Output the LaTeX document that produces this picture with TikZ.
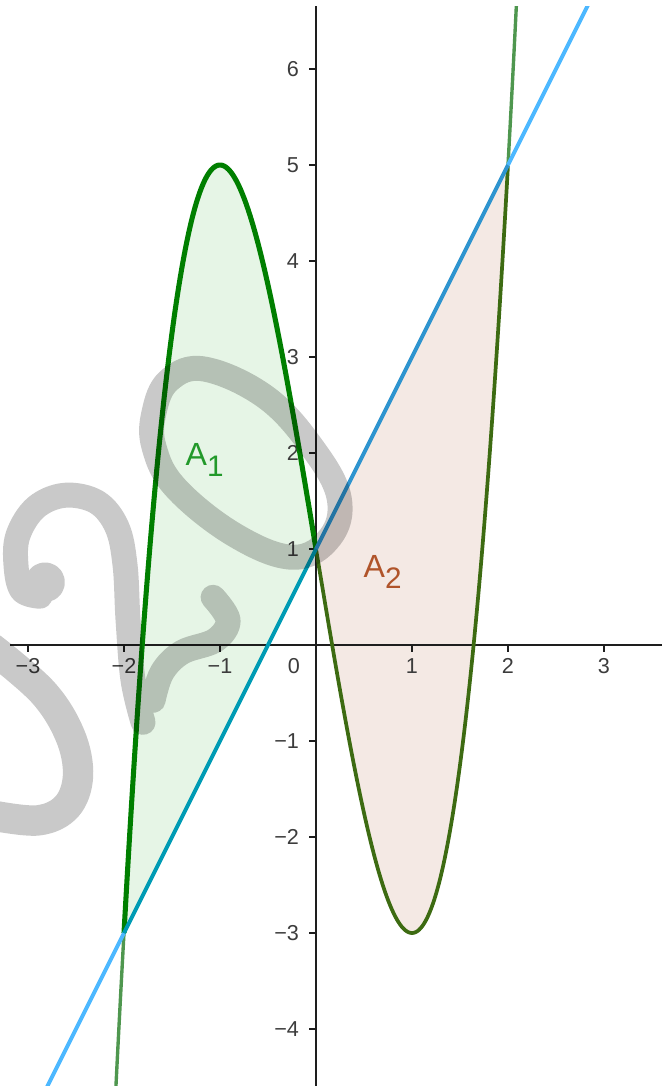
\documentclass[tikz,border=0pt]{standalone}
\usepackage{fontspec}
\setmainfont{Liberation Sans}
\definecolor{fillA}{HTML}{E6F5E6}
\definecolor{fillB}{HTML}{F4E9E4}
\definecolor{curveOut}{HTML}{4F974F}
\definecolor{curveA}{HTML}{007F00}
\definecolor{curveB}{HTML}{3D6B12}
\definecolor{lineOut}{HTML}{4DB8FF}
\definecolor{lineA}{HTML}{009BB4}
\definecolor{lineB}{HTML}{2E94CF}
\definecolor{labA}{HTML}{22992A}
\definecolor{labB}{HTML}{B0542A}
\definecolor{tickcol}{HTML}{3C3C3C}
\definecolor{axiscol}{HTML}{1E1E1E}
\begin{document}
\begin{tikzpicture}[
  axisline/.style={draw=axiscol, line width=0.55pt},
  tickmark/.style={draw=axiscol, line width=0.5pt},
  ticklab/.style={text=tickcol, inner sep=0pt, font=\fontsize{6.4}{7}\selectfont},
  arealab/.style={inner sep=0pt, anchor=base west, font=\fontsize{9.5}{11}\selectfont},
  cubicplot/.style={samples=120, variable=\x, smooth},
  wm/.style={draw=black, draw opacity=0.21, line cap=round, line join=round}
]
\useasboundingbox (-3.29167,-4.59375) rectangle (3.60417,6.71875);

% shaded regions
\fill[fillA] plot[cubicplot, domain=-2:0] (\x,{2*\x*\x*\x-6*\x+1}) -- cycle;
\fill[fillB] plot[cubicplot, domain=0:2] (\x,{2*\x*\x*\x-6*\x+1}) -- cycle;

% axes
\coordinate (xl) at (-3.1875,0);
\coordinate (xr) at (3.60417,0);
\coordinate (yb) at (0,-4.59375);
\coordinate (yt) at (0,6.656);
\draw[axisline] (xl) -- (xr);
\draw[axisline] (yb) -- (yt);

\foreach \i/\t in {-3/−3,-2/−2,-1/−1,1/1,2/2,3/3}{
  \draw[tickmark] (\i,0) -- (\i,-0.07);
  \node[ticklab] (xt\i) at (\i,-0.22) {\t};
}
\node[ticklab] (xt0) at (-0.23,-0.22) {0};
\foreach \j/\t in {-4/−4,-3/−3,-2/−2,-1/−1,1/1,2/2,3/3,4/4,5/5,6/6}{
  \draw[tickmark] (0,\j) -- (-0.07,\j);
  \node[ticklab, anchor=east] (yt\j) at (-0.17,\j) {\t};
}

% curve and line
\begin{scope}
\clip (-3.1875,-4.59375) rectangle (3.60417,6.656);
\draw[curveOut, line width=1.0pt] plot[cubicplot, domain=-2.12:-2] (\x,{2*\x*\x*\x-6*\x+1});
\draw[curveOut, line width=1.0pt] plot[cubicplot, domain=2:2.12] (\x,{2*\x*\x*\x-6*\x+1});
\draw[curveA, line width=1.5pt] plot[cubicplot, domain=-2:0] (\x,{2*\x*\x*\x-6*\x+1});
\draw[curveB, line width=1.1pt] plot[cubicplot, domain=0:2] (\x,{2*\x*\x*\x-6*\x+1});
\coordinate (p1) at (-2.95,-4.9);
\coordinate (p2) at (-2,-3);
\coordinate (p3) at (0,1);
\coordinate (p4) at (2,5);
\coordinate (p5) at (2.95,6.9);
\draw[lineOut, line width=1.15pt] (p1) -- (p2);
\draw[lineA, line width=1.15pt] (p2) -- (p3);
\draw[lineB, line width=1.15pt] (p3) -- (p4);
\draw[lineOut, line width=1.15pt] (p4) -- (p5);
\end{scope}

% area labels
\node[arealab, text=labA] (a1) at (-1.365,1.875) {A\raisebox{-0.37em}{\fontsize{8.8}{10}\selectfont 1}};
\node[arealab, text=labB] (a2) at (0.49,0.708) {A\raisebox{-0.37em}{\fontsize{8.8}{10}\selectfont 2}};

% watermark
\begin{scope}[shift={(-3.29167,6.71875)}, x=0.0104167cm, y=-0.0104167cm]
\draw[wm, line width=7.4pt]
  plot[smooth cycle, tension=0.65] coordinates {(169,380) (205,369) (267,398) (314,450) (339,498) (330,537) (293,557) (235,535) (176,488) (154,447) (154,412)}
  plot[smooth, tension=0.6] coordinates {(40,596) (22,590) (16,565) (18,535) (36,507) (65,495) (97,502) (117,527) (125,565) (128,620) (133,680) (143,722)}
  plot[smooth, tension=0.6] coordinates {(213,597) (228,620) (215,640) (182,652) (162,672) (153,700)}
  (45,582) circle[radius=2.2pt];
\draw[wm, line width=9pt]
  plot[smooth, tension=0.6] coordinates {(-8,648) (43,692) (70,735) (78,775) (67,806) (38,820) (-8,815)};
\end{scope}
\end{tikzpicture}
\end{document}
